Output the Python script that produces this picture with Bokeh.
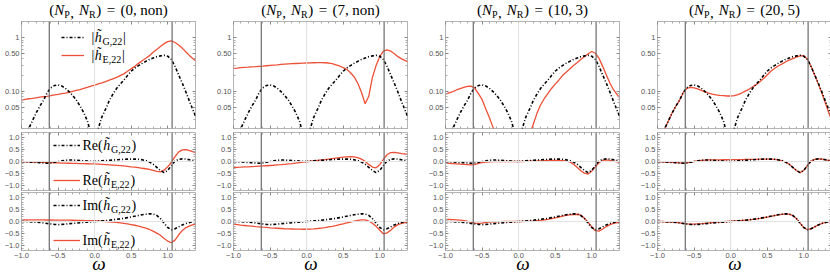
from bokeh.plotting import figure
from bokeh.layouts import row, column
from bokeh.models import (Range1d, FixedTicker, Span, Label, Legend, LegendItem, LinearAxis)
from bokeh.embed import file_html
from bokeh.resources import INLINE

# ---------------- data ----------------
W = [-1.0, -0.95, -0.9, -0.85, -0.8, -0.75, -0.7, -0.65, -0.6, -0.55,
     -0.5, -0.45, -0.4, -0.35, -0.3, -0.25, -0.2, -0.15, -0.1, -0.05,
     0.0, 0.05, 0.1, 0.15, 0.2, 0.25, 0.3, 0.35, 0.4, 0.45,
     0.5, 0.55, 0.6, 0.65, 0.7, 0.75, 0.8, 0.85, 0.9, 0.95,
     1.0, 1.05, 1.1, 1.15, 1.2, 1.25, 1.3, 1.35, 1.38]

G_ABS = [0.008, 0.013, 0.020, 0.028, 0.039, 0.052, 0.067, 0.093, 0.115, 0.127,
         0.130, 0.125, 0.113, 0.098, 0.083, 0.068, 0.053, 0.040, 0.028, 0.016,
         0.006, 0.020, 0.033, 0.046, 0.066, 0.088, 0.112, 0.135, 0.160, 0.195,
         0.235, 0.270, 0.300, 0.330, 0.360, 0.390, 0.415, 0.440, 0.455, 0.465,
         0.450, 0.390, 0.290, 0.200, 0.140, 0.095, 0.063, 0.043, 0.034]
G_RE = [0.00, -0.01, -0.02, -0.03, -0.04, -0.05, -0.06, -0.07, -0.06, -0.03,
        0.00, 0.03, 0.05, 0.06, 0.06, 0.05, 0.04, 0.03, 0.02, 0.01,
        0.005, 0.02, 0.03, 0.04, 0.05, 0.06, 0.07, 0.08, 0.09, 0.10,
        0.10, 0.10, 0.09, 0.07, 0.04, -0.02, -0.11, -0.24, -0.37, -0.46,
        -0.37, -0.17, 0.02, 0.09, 0.11, 0.10, 0.07, 0.04, 0.03]
G_IM = [0.00, 0.00, -0.01, -0.02, -0.03, -0.04, -0.06, -0.08, -0.10, -0.12,
        -0.13, -0.12, -0.11, -0.09, -0.08, -0.065, -0.05, -0.04, -0.025, -0.015,
        0.00, 0.015, 0.025, 0.035, 0.05, 0.07, 0.09, 0.11, 0.13, 0.16,
        0.19, 0.22, 0.25, 0.28, 0.30, 0.32, 0.31, 0.25, 0.12, -0.07,
        -0.25, -0.34, -0.30, -0.22, -0.14, -0.08, -0.04, 0.00, 0.01]

E1_ABS = [0.068, 0.070, 0.072, 0.073, 0.075, 0.077, 0.079, 0.080, 0.082, 0.085,
          0.087, 0.090, 0.092, 0.095, 0.099, 0.103, 0.107, 0.112, 0.118, 0.124,
          0.130, 0.137, 0.143, 0.151, 0.160, 0.170, 0.180, 0.195, 0.210, 0.235,
          0.260, 0.290, 0.330, 0.370, 0.410, 0.460, 0.530, 0.600, 0.680, 0.770,
          0.840, 0.870, 0.810, 0.730, 0.630, 0.540, 0.460, 0.400, 0.370]
E1_RE = [0.00, -0.01, -0.015, -0.02, -0.03, -0.035, -0.04, -0.045, -0.05, -0.055,
         -0.06, -0.065, -0.07, -0.072, -0.076, -0.08, -0.085, -0.09, -0.093, -0.097,
         -0.10, -0.11, -0.12, -0.13, -0.14, -0.15, -0.16, -0.17, -0.185, -0.20,
         -0.22, -0.235, -0.255, -0.28, -0.30, -0.33, -0.37, -0.41, -0.43, -0.36,
         -0.22, -0.03, 0.20, 0.40, 0.48, 0.49, 0.45, 0.40, 0.38]
E1_IM = [0.065, 0.065, 0.065, 0.065, 0.065, 0.065, 0.064, 0.063, 0.062, 0.061,
         0.060, 0.058, 0.056, 0.054, 0.052, 0.050, 0.047, 0.043, 0.040, 0.035,
         0.030, 0.020, 0.010, 0.000, -0.015, -0.030, -0.040, -0.055, -0.075, -0.100,
         -0.125, -0.155, -0.190, -0.230, -0.270, -0.330, -0.400, -0.480, -0.570, -0.700,
         -0.810, -0.880, -0.770, -0.550, -0.370, -0.250, -0.180, -0.130, -0.110]

E2_ABS = [0.267, 0.270, 0.274, 0.277, 0.280, 0.284, 0.287, 0.291, 0.294, 0.298,
          0.302, 0.306, 0.310, 0.315, 0.319, 0.322, 0.325, 0.328, 0.330, 0.333,
          0.335, 0.337, 0.339, 0.340, 0.340, 0.339, 0.335, 0.325, 0.310, 0.295,
          0.275, 0.255, 0.220, 0.185, 0.140, 0.095, 0.058, 0.080, 0.180, 0.300,
          0.440, 0.560, 0.590, 0.560, 0.500, 0.440, 0.400, 0.370, 0.355]
E2_RE = [-0.25, -0.24, -0.235, -0.225, -0.22, -0.21, -0.205, -0.195, -0.185, -0.175,
         -0.165, -0.155, -0.14, -0.13, -0.115, -0.10, -0.085, -0.065, -0.045, -0.025,
         -0.01, 0.01, 0.03, 0.05, 0.065, 0.08, 0.10, 0.12, 0.14, 0.16,
         0.18, 0.195, 0.20, 0.19, 0.16, 0.10, 0.01, -0.12, -0.23, -0.26,
         -0.13, 0.09, 0.28, 0.37, 0.38, 0.36, 0.33, 0.31, 0.30]
E2_IM = [-0.11, -0.13, -0.15, -0.165, -0.18, -0.195, -0.21, -0.22, -0.235, -0.245,
         -0.26, -0.27, -0.28, -0.29, -0.30, -0.305, -0.31, -0.315, -0.318, -0.32,
         -0.32, -0.315, -0.305, -0.29, -0.27, -0.25, -0.225, -0.20, -0.17, -0.13,
         -0.095, -0.06, -0.025, 0.015, 0.05, 0.07, 0.07, 0.02, -0.07, -0.20,
         -0.36, -0.51, -0.47, -0.36, -0.22, -0.13, -0.08, -0.05, -0.04]

E3_ABS = [0.088, 0.093, 0.098, 0.105, 0.111, 0.117, 0.123, 0.124, 0.114, 0.090,
          0.070, 0.047, 0.032, 0.021, 0.013, 0.009, 0.006, 0.004, 0.003, 0.003,
          0.004, 0.006, 0.009, 0.015, 0.024, 0.038, 0.055, 0.072, 0.090, 0.112,
          0.135, 0.160, 0.195, 0.225, 0.260, 0.300, 0.340, 0.390, 0.440, 0.500,
          0.550, 0.510, 0.410, 0.290, 0.200, 0.140, 0.105, 0.085, 0.076]
E3_RE = [-0.07, -0.08, -0.09, -0.10, -0.11, -0.12, -0.13, -0.14, -0.13, -0.08,
         -0.05, -0.03, -0.015, -0.005, 0.00, 0.00, 0.00, 0.00, 0.00, 0.00,
         0.00, 0.00, 0.005, 0.01, 0.015, 0.02, 0.03, 0.04, 0.05, 0.05,
         0.05, 0.05, 0.04, 0.02, -0.02, -0.11, -0.24, -0.38, -0.48, -0.52,
         -0.40, -0.22, -0.05, 0.05, 0.07, 0.05, 0.02, -0.01, -0.03]
E3_IM = [0.09, 0.085, 0.08, 0.07, 0.055, 0.035, 0.01, -0.03, -0.07, -0.08,
         -0.065, -0.04, -0.025, -0.015, -0.01, -0.005, 0.00, 0.00, 0.00, 0.00,
         0.00, 0.00, 0.005, 0.01, 0.02, 0.035, 0.05, 0.07, 0.09, 0.12,
         0.15, 0.18, 0.22, 0.25, 0.27, 0.29, 0.30, 0.26, 0.14, -0.03,
         -0.22, -0.38, -0.40, -0.31, -0.21, -0.13, -0.08, -0.05, -0.04]

E4_ABS = [0.008, 0.013, 0.020, 0.028, 0.039, 0.052, 0.067, 0.093, 0.112, 0.117,
          0.115, 0.110, 0.103, 0.097, 0.092, 0.088, 0.085, 0.083, 0.082, 0.081,
          0.081, 0.082, 0.086, 0.092, 0.100, 0.108, 0.119, 0.132, 0.150, 0.172,
          0.200, 0.235, 0.265, 0.295, 0.320, 0.350, 0.380, 0.405, 0.430, 0.455,
          0.460, 0.400, 0.290, 0.200, 0.135, 0.090, 0.058, 0.037, 0.029]
E4_RE = [0.00, -0.01, -0.02, -0.03, -0.04, -0.05, -0.06, -0.07, -0.06, -0.03,
         0.00, 0.03, 0.05, 0.06, 0.065, 0.065, 0.068, 0.07, 0.072, 0.073,
         0.074, 0.075, 0.077, 0.079, 0.082, 0.085, 0.088, 0.09, 0.095, 0.10,
         0.10, 0.10, 0.09, 0.07, 0.04, -0.02, -0.11, -0.24, -0.37, -0.46,
         -0.37, -0.17, 0.02, 0.09, 0.11, 0.10, 0.07, 0.04, 0.03]
E4_IM = [0.00, 0.00, -0.01, -0.02, -0.03, -0.04, -0.06, -0.08, -0.10, -0.11,
         -0.11, -0.10, -0.09, -0.075, -0.06, -0.045, -0.03, -0.02, -0.01, 0.00,
         0.01, 0.02, 0.03, 0.045, 0.06, 0.07, 0.085, 0.10, 0.125, 0.155,
         0.185, 0.215, 0.245, 0.275, 0.295, 0.315, 0.305, 0.245, 0.12, -0.07,
         -0.25, -0.34, -0.30, -0.22, -0.14, -0.08, -0.04, 0.00, 0.01]

PANEL_NP = ["0", "7", "10", "20"]
PANEL_NR = ["non", "non", "3", "5"]
E_SETS = [(E1_ABS, E1_RE, E1_IM), (E2_ABS, E2_RE, E2_IM),
          (E3_ABS, E3_RE, E3_IM), (E4_ABS, E4_RE, E4_IM)]
QNM_LINES = [-0.62, 1.06]
X_MIN, X_MAX = -1.0, 1.38
X_LABEL = "\u03c9\u2003"   # omega, padded so that it sits a little left of centre

X_TICKS = [-1.0, -0.5, 0.0, 0.5, 1.0]
X_TICK_LABELS = ["\u22121.0", "\u22120.5", "0.0", "0.5", "1.0"]
X_MINOR = [-0.9, -0.8, -0.7, -0.6, -0.4, -0.3, -0.2, -0.1, 0.1, 0.2, 0.3, 0.4,
           0.6, 0.7, 0.8, 0.9, 1.1, 1.2, 1.3]
Y_TICKS = [-1.0, -0.5, 0.0, 0.5, 1.0]
Y_TICK_LABELS = ["\u22121.0", "\u22120.5", "0.0", "0.5", "1.0"]
Y_MINOR = [-1.1, -0.9, -0.8, -0.7, -0.6, -0.4, -0.3, -0.2, -0.1, 0.1, 0.2, 0.3, 0.4,
           0.6, 0.7, 0.8, 0.9, 1.1]
LOG_TICKS = [0.05, 0.1, 0.5, 1.0]
LOG_TICK_LABELS = ["0.05", "0.10", "0.50", "1"]
LOG_MINOR = [0.02, 0.03, 0.04, 0.06, 0.07, 0.08, 0.09, 0.2, 0.3, 0.4, 0.6, 0.7, 0.8, 0.9, 2.0]

# ---------------- styling / layout ----------------
RED = "#ee5037"
BLACK = "black"
GDASH = "3 2 1 2"
SERIF = "Liberation Serif"
SANS = "Liberation Sans"
TICK_COLOR = "#555555"
FRAME_COLOR = "#b4b4b4"
DESC = 0.216       # descent of Liberation Serif (em)

FW = 174
LB = [21, 18, 18, 18]
RB = [18, 18, 18, 3]
TITLE_H = 20

REG_W = {'(': 0.333, ')': 0.333, ',': 0.25, ' ': 0.25, '=': 0.564, 'n': 0.5, 'o': 0.5,
         'R': 0.667, 'e': 0.444, 'I': 0.333, 'm': 0.778, 'P': 0.556, 'G': 0.722,
         'E': 0.611, '|': 0.2}
ITA_W = {'N': 0.667, 'h': 0.5, '\u0303': 0.0, '\u03c9': 0.67}


def text_width(s, style, size):
    tab = ITA_W if style == "italic" else REG_W
    return sum(tab.get(ch, 0.5) for ch in s) * size


def math_label(p, runs, x, y, align="left"):
    # runs: (text, style, size, dy, gap_before); y is the baseline of the main text,
    # x, y in pixels from the frame's bottom-left corner
    widths = [r[4] + text_width(r[0], r[1], r[2]) for r in runs]
    total = sum(widths)
    cur = x - total / 2.0 if align == "center" else x
    for (t, st, sz, dy, gap), w in zip(runs, widths):
        cur += gap
        p.add_layout(Label(x=cur, y=y + dy - DESC * sz, x_units="screen", y_units="screen",
                           text=t, text_font=SERIF, text_font_style=st,
                           text_font_size=f"{sz}px", text_baseline="bottom",
                           text_align="left", text_color="black"))
        cur += w - gap


def style_axis(ax, labels):
    ax.axis_line_color = None
    ax.major_tick_in = 3
    ax.major_tick_out = 0
    ax.minor_tick_in = 2
    ax.minor_tick_out = 0
    ax.major_tick_line_color = "#8a8a8a"
    ax.minor_tick_line_color = "#a8a8a8"
    if labels:
        ax.major_label_text_font = SANS
        ax.major_label_text_font_size = "7.5px"
        ax.major_label_text_color = TICK_COLOR
        ax.major_label_standoff = 2
    else:
        ax.major_label_text_color = None
        ax.major_label_text_font_size = "1px"
        ax.major_label_standoff = 0


def title_strip(ci):
    s = figure(frame_width=FW, frame_height=TITLE_H, min_border_left=LB[ci],
               min_border_right=RB[ci], min_border_top=0, min_border_bottom=0,
               x_range=Range1d(X_MIN, X_MAX), y_range=Range1d(0, TITLE_H),
               x_axis_location=None, y_axis_location=None,
               toolbar_location=None, output_backend="svg")
    s.grid.visible = False
    s.outline_line_color = None
    s.background_fill_color = "white"
    s.border_fill_color = "white"
    return s


def make_fig(kind, ci):
    kw = dict(frame_width=FW, toolbar_location=None, output_backend="svg",
              x_range=Range1d(X_MIN, X_MAX), min_border_left=LB[ci],
              min_border_right=RB[ci])
    if kind == "abs":
        p = figure(y_axis_type="log", y_range=Range1d(0.02, 2.0), frame_height=107,
                   min_border_top=1, min_border_bottom=2, **kw)
        yt, ymin = LOG_TICKS, LOG_MINOR
        ylab = dict(zip(LOG_TICKS, LOG_TICK_LABELS))
    elif kind == "re":
        p = figure(y_range=Range1d(-1.2, 1.2), frame_height=58,
                   min_border_top=2, min_border_bottom=1, **kw)
        yt, ymin = Y_TICKS, Y_MINOR
        ylab = dict(zip(Y_TICKS, Y_TICK_LABELS))
    else:
        p = figure(y_range=Range1d(-1.2, 1.2), frame_height=58,
                   min_border_top=1, min_border_bottom=2, **kw)
        yt, ymin = Y_TICKS, Y_MINOR
        ylab = dict(zip(Y_TICKS, Y_TICK_LABELS))
    p.xaxis.ticker = FixedTicker(ticks=X_TICKS, minor_ticks=X_MINOR)
    if kind == "im":
        style_axis(p.xaxis[0], True)
        p.xaxis.major_label_overrides = dict(zip(X_TICKS, X_TICK_LABELS))
        p.xaxis.axis_label = X_LABEL
        p.xaxis.axis_label_text_font = SERIF
        p.xaxis.axis_label_text_font_style = "italic"
        p.xaxis.axis_label_text_font_size = "19px"
        p.xaxis.axis_label_text_color = "black"
        p.xaxis.axis_label_standoff = -8
    else:
        style_axis(p.xaxis[0], False)
    p.yaxis.ticker = FixedTicker(ticks=yt, minor_ticks=ymin)
    p.yaxis.major_label_overrides = ylab
    style_axis(p.yaxis[0], True)
    top_ax = LinearAxis(ticker=FixedTicker(ticks=X_TICKS, minor_ticks=X_MINOR))
    right_ax = LinearAxis(ticker=FixedTicker(ticks=yt, minor_ticks=ymin))
    style_axis(top_ax, False)
    style_axis(right_ax, False)
    p.add_layout(top_ax, "above")
    p.add_layout(right_ax, "right")
    p.grid.visible = False
    p.outline_line_color = FRAME_COLOR
    p.outline_line_width = 1
    p.background_fill_color = "white"
    p.border_fill_color = "white"
    p.add_layout(Span(location=0.0, dimension="height", line_color="#e2e2e2", line_width=1))
    if kind != "abs":
        p.add_layout(Span(location=0.0, dimension="width", line_color="#e2e2e2", line_width=1))
    for q in QNM_LINES:
        p.add_layout(Span(location=q, dimension="height", line_color="#6a6a6a", line_width=1.2))
    return p


def add_legend(p, rG, rE, lx, ly, gw, spacing):
    leg = Legend(items=[LegendItem(label=" ", renderers=[rG]),
                        LegendItem(label=" ", renderers=[rE])],
                 location=(lx, ly), orientation="vertical", glyph_width=gw, glyph_height=10,
                 spacing=spacing, padding=0, margin=0, label_standoff=0, label_width=1,
                 label_height=1, label_text_font_size="1px", background_fill_alpha=0,
                 border_line_alpha=0)
    p.add_layout(leg)


def sub_runs(prefix, letter, suffix, main=14, sub=10):
    runs = []
    if prefix:
        runs.append((prefix, "normal", main, 0, 0))
    runs.append(("h\u0303", "italic", main, 0, 0.5))
    runs.append((letter + ",22", "normal", sub, -3, 0.8))
    runs.append((suffix, "normal", main, 0, 0.8))
    return runs


cols = []
for ci in range(4):
    eabs, ere, eim = E_SETS[ci]
    ts = title_strip(ci)
    pa = make_fig("abs", ci)
    pr = make_fig("re", ci)
    pi = make_fig("im", ci)
    figs = [(pa, G_ABS, eabs), (pr, G_RE, ere), (pi, G_IM, eim)]
    rends = []
    for p, g, e in figs:
        rE = p.line(W, e, line_color=RED, line_width=1.3)
        rG = p.line(W, g, line_color=BLACK, line_width=1.6, line_dash=GDASH)
        rends.append((rG, rE))

    # title  (N_P, N_R) = (n, m)
    title_runs = [("(", "normal", 15, 0, 0), ("N", "italic", 15, 0, 0),
                  ("P", "normal", 10, -2.5, 0), (",", "normal", 15, 0, 0.5),
                  ("N", "italic", 15, 0, 5), ("R", "normal", 10, -2.5, 0),
                  (")", "normal", 15, 0, 0.5), ("=", "normal", 15, 0, 5.5),
                  ("(" + PANEL_NP[ci] + ",", "normal", 15, 0, 5.5),
                  (PANEL_NR[ci] + ")", "normal", 15, 0, 3.5)]
    math_label(ts, title_runs, FW / 2.0, 5.6, align="center")

    if ci == 0:
        add_legend(pa, rends[0][0], rends[0][1], 40, 68, 23, 8)
        add_legend(pr, rends[1][0], rends[1][1], 32, 5, 27, 25)
        add_legend(pi, rends[2][0], rends[2][1], 32, 5, 27, 25)
        math_label(pa, sub_runs("|", "G", "|"), 70, 91 - 4.5)
        math_label(pa, sub_runs("|", "E", "|"), 70, 73 - 4.5)
        math_label(pr, sub_runs("Re(", "G", ")"), 61, 45 - 4.5)
        math_label(pr, sub_runs("Re(", "E", ")"), 61, 6)
        math_label(pi, sub_runs("Im(", "G", ")"), 61, 45 - 4.5)
        math_label(pi, sub_runs("Im(", "E", ")"), 61, 6)

    cols.append(column(ts, pa, pr, pi))

layout = row(*cols)
open("out.html", "w").write(file_html(layout, INLINE))
